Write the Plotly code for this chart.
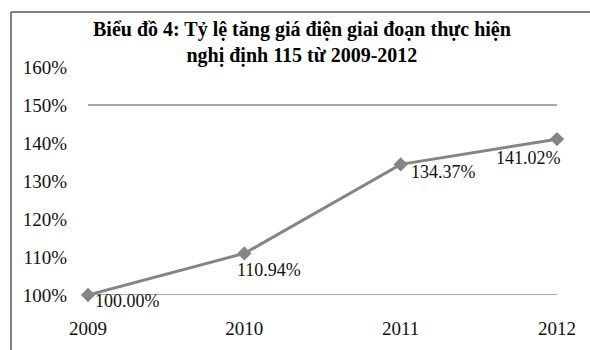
import plotly.graph_objects as go

# Chart data
years = ["2009", "2010", "2011", "2012"]
rates = [100.00, 110.94, 134.37, 141.02]
rate_labels = ["100.00%", "110.94%", "134.37%", "141.02%"]
y_ticks = [100, 110, 120, 130, 140, 150, 160]
gridline_values = [100, 150]

title_text = ("<b>Biểu đồ 4: Tỷ lệ tăng giá điện giai đoạn thực hiện"
              "<br>nghị định 115 từ 2009-2012</b>")

W, H = 590, 350
ML, MR, MT, MB = 88, 33, 67, 55
PW, PH = W - ML - MR, H - MT - MB

SERIF = "Liberation Serif, Times New Roman, serif"
GRAY = "#858585"


def px_x(p):
    return (p - ML) / PW


def px_y(p):
    return (H - MB - p) / PH


fig = go.Figure()
fig.add_trace(go.Scatter(
    x=years, y=rates, mode="lines+markers",
    line=dict(color=GRAY, width=3),
    marker=dict(symbol="diamond", size=11, color=GRAY),
    cliponaxis=False, hoverinfo="skip", showlegend=False,
))

# data label placement (pixel offsets from each marker)
label_offsets = [(5, -6), (-9, -17), (8, -8), (-63, -19)]
annotations = []
for i, (val, lab, (dx, dy)) in enumerate(zip(rates, rate_labels, label_offsets)):
    annotations.append(dict(
        x=i, y=val, xref="x", yref="y", text=lab, showarrow=False,
        xanchor="left", yanchor="middle", xshift=dx, yshift=dy,
        font=dict(family=SERIF, size=18, color="#111"),
    ))

annotations.append(dict(
    x=px_x(302), y=px_y(42), xref="paper", yref="paper",
    text=title_text, showarrow=False, xanchor="center", yanchor="middle",
    align="center", font=dict(family=SERIF, size=20, color="#000"),
))

shapes = []
for gv in gridline_values:
    shapes.append(dict(type="line", xref="x domain", yref="y",
                       x0=0, x1=1, y0=gv, y1=gv,
                       line=dict(color="#8c8c8c", width=1.5), layer="below"))
# chart area frame (top and left edges)
shapes.append(dict(type="line", xref="paper", yref="paper",
                   x0=px_x(11), x1=px_x(W), y0=px_y(12), y1=px_y(12),
                   line=dict(color="#808080", width=2)))
shapes.append(dict(type="line", xref="paper", yref="paper",
                   x0=px_x(11), x1=px_x(11), y0=px_y(12), y1=px_y(H),
                   line=dict(color="#808080", width=2)))

fig.update_layout(
    width=W, height=H,
    margin=dict(l=ML, r=MR, t=MT, b=MB),
    paper_bgcolor="white", plot_bgcolor="white",
    font=dict(family=SERIF, size=18, color="#111"),
    annotations=annotations, shapes=shapes,
    xaxis=dict(type="category", range=[0, 3], showgrid=False,
               zeroline=False, showline=False, ticks="",
               ticklabelstandoff=20,
               tickfont=dict(family=SERIF, size=19, color="#111")),
    yaxis=dict(range=[100, 160], tickvals=y_ticks,
               ticktext=[f"{v}%" for v in y_ticks],
               showgrid=False, zeroline=False, showline=False, ticks="",
               ticklabelstandoff=20,
               tickfont=dict(family=SERIF, size=19, color="#111")),
)

fig.write_html("out.html")
